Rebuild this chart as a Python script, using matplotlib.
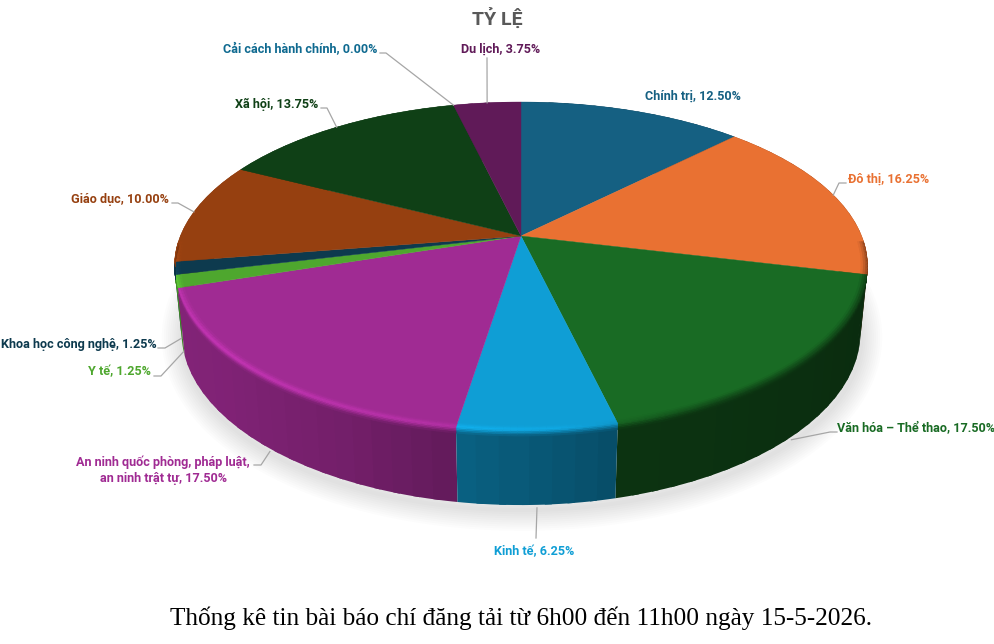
import numpy as np
import matplotlib
matplotlib.use('Agg')
import matplotlib.pyplot as plt
from matplotlib.collections import PolyCollection
from matplotlib.colors import to_rgb

# DATA

categories = ['Chính trị', 'Đô thị', 'Văn hóa – Thể thao', 'Kinh tế',
              'An ninh quốc phòng, pháp luật,\nan ninh trật tự', 'Y tế',
              'Khoa học công nghệ', 'Giáo dục', 'Xã hội',
              'Cải cách hành chính', 'Du lịch']
values = [12.50, 16.25, 17.50, 6.25, 17.50, 1.25, 1.25, 10.00, 13.75, 0.00, 3.75]
colors = ['#156082', '#E97132', '#196B24', '#0F9ED5', '#A02B93', '#4EA72E',
          '#0D3A4E', '#964010', '#0F4016', '#0F6A90', '#601A58']

# LABEL LAYOUT: text x, text y, align, elbow points (empty = no leader), leader on side or top
label_x = [693, 848, 995, 534, 163, 151, 156.5, 169, 318, 377, 501]
label_y = [96, 179, 429, 552, 470, 372, 344, 199, 104, 50, 49]
label_ha = ['center', 'left', 'right', 'center', 'center', 'right', 'right', 'right', 'right', 'right', 'center']
elbows = [[], [(846, 183), (839, 183)], [(837, 432), (830, 432)], [(536, 538)],
          [(254, 465), (261, 465)], [(154, 376), (161, 376)], [(158, 348), (165, 348)],
          [(172, 203), (178, 203)], [(321, 108), (327, 108)], [(380, 53), (386, 53)],
          [(487, 58)]]
on_side = [False, False, True, True, True, True, True, False, False, False, False]

# PIE GEOMETRY (pixels)

cx, cy = 521, 236
rx, ry = 340.6, 158.5
persp = 0.183
depth = 66.7
low_w = 0.02

fig = plt.figure(figsize=(9.95, 6.44), dpi=100)
ax = fig.add_axes([0, 0, 1, 1])
ax.set_xlim(0, 995)
ax.set_ylim(644, 0)
ax.axis('off')


def top_xy(deg, r=1.0):
    a = np.radians(deg)
    u, v = r * np.sin(a), r * np.cos(a)
    w = 1 + persp * v
    return cx + rx * u / w, cy - ry * v / w


def low_xy(deg, t=1.0):
    a = np.radians(deg)
    u, v = np.sin(a), np.cos(a)
    w = 1 + persp * v + low_w * t
    return cx + rx * u / w, cy + (-ry * v + depth * t) / w


def shade(c, f):
    return tuple(np.clip(np.array(to_rgb(c)) * f, 0, 1))


def mix(c, d, f):
    return tuple(np.array(c) * (1 - f) + np.array(d) * f)


edges = np.concatenate([[0], np.cumsum(values)]) * 3.6

# SHADOW

sx, sy = low_xy(np.linspace(0, 360, 361))
for lw in range(30, 0, -3):
    ax.plot(sx + 1, sy + 5, color='black', alpha=0.012, lw=lw, zorder=1, solid_joinstyle='round')

# SIDE WALL

side_angle = [0, 104, 135, 166, 190, 205, 230, 260, 360]
side_light = [0.40, 0.40, 0.44, 0.48, 0.62, 0.72, 0.80, 0.82, 0.82]

strips = []
strip_cols = []
for i in range(len(values)):
    if values[i] == 0:
        continue
    n = max(int((edges[i + 1] - edges[i]) / 3), 1)
    t = np.linspace(edges[i], edges[i + 1], n + 1)
    for j in range(n):
        mid = (t[j] + t[j + 1]) / 2
        # small overlap so no seams show between strips
        a0 = max(t[j] - 0.5, edges[i])
        a1 = min(t[j + 1] + 0.5, edges[i + 1])
        aa = np.linspace(a0, a1, 5)
        x1, y1 = top_xy(aa)
        x2, y2 = low_xy(aa)
        strips.append((np.cos(np.radians(mid)), np.column_stack([np.r_[x1, x2[::-1]], np.r_[y1, y2[::-1]]])))
        strip_cols.append(shade(colors[i], np.interp(mid, side_angle, side_light)))
order = np.argsort([-s[0] for s in strips])
ax.add_collection(PolyCollection([strips[k][1] for k in order], facecolors=[strip_cols[k] for k in order],
                                 edgecolors='none', linewidths=0, zorder=2))

# TOP FACE

for i in range(len(values)):
    if values[i] == 0:
        continue
    aa = np.linspace(edges[i], edges[i + 1], 80)
    x, y = top_xy(aa)
    ax.fill(np.r_[cx, x], np.r_[cy, y], facecolor=colors[i], edgecolor=colors[i], lw=0.3, zorder=3)

# RIM BEVEL: soft band across the edge between top face and side wall

rim_angle = [0, 95, 110, 150, 175, 200, 230, 258, 270]
rim_glow = [1.0, 1.0, 1.0, 1.0, 1.08, 1.18, 1.25, 1.2, 1.0]
rim_dark = [0.0, 0.30, 0.40, 0.30, 0.0, 0.0, 0.0, 0.0, 0.0]

band_pos = [-0.018, -0.012, -0.006, 0.0, 0.02, 0.04, 0.06, 0.08]


def band_xy(deg, p):
    if p <= 0:
        return top_xy(deg, 1 + p)
    return low_xy(deg, p)


quads = []
quad_cols = []
for i in range(len(values)):
    if values[i] == 0:
        continue
    t = np.arange(edges[i], edges[i + 1] + 0.01, 1.0)
    if t[-1] < edges[i + 1]:
        t = np.r_[t, edges[i + 1]]
    for j in range(len(t) - 1):
        mid = (t[j] + t[j + 1]) / 2
        if mid > 268 or mid < 92:
            continue
        base = to_rgb(colors[i])
        wall = shade(colors[i], np.interp(mid, side_angle, side_light))
        g = np.interp(mid, rim_angle, rim_glow)
        d = np.interp(mid, rim_angle, rim_dark)
        rim = mix(shade(colors[i], g), (0, 0, 0), d)
        for k in range(len(band_pos) - 1):
            p0, p1 = band_pos[k], band_pos[k + 1]
            xa, ya = band_xy(t[j], p0)
            xb, yb = band_xy(t[j + 1], p0)
            xc, yc = band_xy(t[j + 1], p1)
            xd, yd = band_xy(t[j], p1)
            pm = (p0 + p1) / 2
            if pm < 0:
                c = mix(base, rim, 1 + pm / 0.018)
            else:
                c = mix(rim, wall, pm / 0.08)
            quads.append([(xa, ya), (xb, yb), (xc, yc), (xd, yd)])
            quad_cols.append(c)
ax.add_collection(PolyCollection(quads, facecolors=quad_cols, edgecolors=quad_cols, linewidths=0.3, zorder=4))

# LEADERS AND LABELS

label_font = ['Roboto', 'DejaVu Sans']
for i in range(len(values)):
    mid = (edges[i] + edges[i + 1]) / 2
    label = '{0}, {1:.2f}%'.format(categories[i], values[i])
    ax.text(label_x[i], label_y[i], label, color=colors[i], fontsize=9.1, fontweight='bold',
            family=label_font, ha=label_ha[i], va='center', multialignment='center', linespacing=1.3, zorder=6)
    if elbows[i]:
        ax_, ay_ = low_xy(mid) if on_side[i] else top_xy(mid)
        px = [p[0] for p in elbows[i]] + [ax_]
        py = [p[1] for p in elbows[i]] + [ay_ + (3 if on_side[i] else 0)]
        ax.plot(px, py, color='#A6A6A6', lw=0.9, zorder=5)

ax.text(497, 18, 'TỶ LỆ', color='#595959', fontsize=14, fontweight='bold',
        family=label_font, ha='center', va='center')
ax.text(521, 618, 'Thống kê tin bài báo chí đăng tải từ 6h00 đến 11h00 ngày 15-5-2026.',
        color='black', fontsize=18.15, family='Liberation Serif', ha='center', va='center')

fig.savefig('out.png', dpi=100)
